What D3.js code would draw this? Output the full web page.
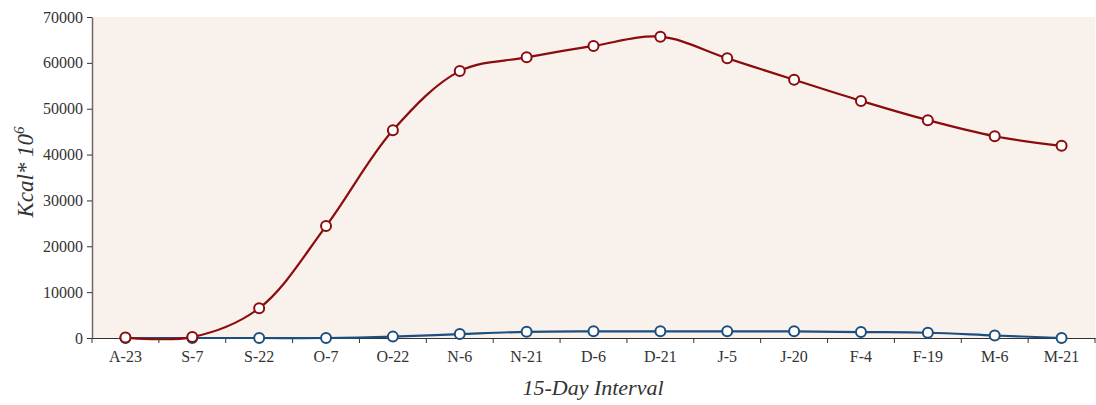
<!DOCTYPE html>
<html><head><meta charset="utf-8">
<script src="https://cdn.jsdelivr.net/npm/d3@7"></script>
<style>
body{margin:0;background:#fff;}
text{font-family:"Liberation Serif","DejaVu Serif",serif;}
</style></head>
<body><svg id="c" width="1096" height="405"></svg>
<script>
const categories = ["A-23","S-7","S-22","O-7","O-22","N-6","N-21","D-6","D-21","J-5","J-20","F-4","F-19","M-6","M-21"];
const redValues = [100, 200, 6500, 24400, 45300, 58200, 61200, 63700, 65700, 61000, 56300, 51700, 47500, 44000, 41900];
const blueValues = [0, 0, 0, 0, 300, 850, 1350, 1450, 1450, 1450, 1450, 1300, 1150, 550, 0];
const yTicks = [0,10000,20000,30000,40000,50000,60000,70000];

const svg = d3.select("#c");
const m = {l:92, r:1095, t:17, b:338};
const x = d3.scaleBand().domain(categories).range([m.l, m.r]);
const y = d3.scaleLinear().domain([0,70000]).range([m.b, m.t]);

svg.append("rect").attr("x",m.l).attr("y",m.t).attr("width",m.r-m.l).attr("height",m.b-m.t).attr("fill","#f9f1ec");

// y axis
const ya = svg.append("g").attr("transform",`translate(${m.l},0)`)
  .call(d3.axisLeft(y).tickValues(yTicks).tickFormat(d3.format("d")).tickSize(5).tickSizeOuter(0));
ya.select(".domain").attr("stroke","#6e6766").attr("stroke-width",1.5);
ya.selectAll(".tick line").attr("stroke","#333");
ya.selectAll("text").attr("font-size",16).attr("fill","#333").attr("x",-9);

// x axis
const xa = svg.append("g").attr("transform",`translate(0,${m.b})`)
  .call(d3.axisBottom(x).tickSize(0).tickSizeOuter(0));
xa.select(".domain").attr("stroke","#333").attr("stroke-width",1);
xa.selectAll(".tick line").remove();
xa.selectAll("text").attr("font-size",16).attr("fill","#333").attr("dy","1.3em");
// boundary ticks
svg.append("g").selectAll("line").data(d3.range(categories.length+1)).join("line")
  .attr("x1",i=>m.l + i*x.step()).attr("x2",i=>m.l + i*x.step())
  .attr("y1",m.b).attr("y2",m.b+5).attr("stroke","#333");

const line = d3.line().x((d,i)=>x(categories[i])+x.bandwidth()/2).y(d=>y(d)).curve(d3.curveCatmullRom.alpha(0.5));

function series(vals, color){
  svg.append("path").datum(vals).attr("d",line).attr("fill","none").attr("stroke",color).attr("stroke-width",2.2);
  svg.append("g").selectAll("circle").data(vals).join("circle")
    .attr("cx",(d,i)=>x(categories[i])+x.bandwidth()/2).attr("cy",d=>y(d)).attr("r",5)
    .attr("fill","#fff").attr("stroke",color).attr("stroke-width",2);
}
series(blueValues,"#1d4f7e");
series(redValues,"#8b0c0c");

svg.append("text").attr("transform","translate(33,172) rotate(-90)").attr("text-anchor","middle")
  .attr("font-size",23).attr("font-style","italic").attr("fill","#333")
  .html('Kcal* 10<tspan dy="-9" font-size="15">6</tspan>');
svg.append("text").attr("x",593).attr("y",395).attr("text-anchor","middle")
  .attr("font-size",22).attr("font-style","italic").attr("fill","#333").text("15-Day Interval");
</script></body></html>
